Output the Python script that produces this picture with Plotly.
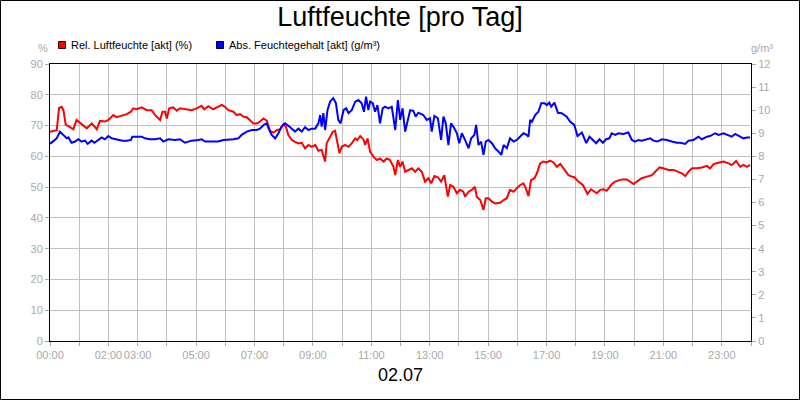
import plotly.graph_objects as go

# ---------------- data ----------------
rel_hours = [0.00, 0.23, 0.31, 0.40, 0.46, 0.54, 0.63, 0.74, 0.80, 0.91, 1.03, 1.14, 1.26, 1.43, 1.54, 1.60, 1.71, 1.88,
             2.00, 2.17, 2.28, 2.45, 2.63, 2.77, 2.85, 2.97, 3.14, 3.31, 3.48, 3.60, 3.77, 3.85, 3.94, 4.00, 4.08, 4.22,
             4.34, 4.45, 4.62, 4.85, 5.02, 5.19, 5.28, 5.42, 5.59, 5.76, 5.88, 5.99, 6.11, 6.28, 6.39, 6.51, 6.62, 6.74,
             6.85, 6.96, 7.08, 7.19, 7.31, 7.42, 7.53, 7.65, 7.76, 7.88, 7.99, 8.08, 8.16, 8.28, 8.39, 8.50, 8.62, 8.73,
             8.85, 8.96, 9.08, 9.19, 9.30, 9.42, 9.47, 9.59, 9.68, 9.76, 9.84, 9.91, 9.99, 10.10, 10.22, 10.33, 10.45,
             10.52, 10.62, 10.73, 10.79, 10.87, 10.96, 11.07, 11.19, 11.30, 11.42, 11.53, 11.64, 11.76, 11.82, 11.91,
             11.99, 12.07, 12.16, 12.27, 12.39, 12.50, 12.61, 12.73, 12.84, 12.96, 13.05, 13.16, 13.28, 13.39, 13.50,
             13.62, 13.70, 13.81, 13.93, 14.04, 14.15, 14.21, 14.33, 14.44, 14.55, 14.61, 14.73, 14.84, 14.92, 15.01,
             15.13, 15.24, 15.41, 15.53, 15.64, 15.75, 15.87, 15.98, 16.10, 16.21, 16.29, 16.38, 16.47, 16.59, 16.67,
             16.78, 16.89, 17.01, 17.12, 17.24, 17.35, 17.47, 17.58, 17.75, 17.87, 17.95, 18.09, 18.24, 18.32, 18.40,
             18.52, 18.63, 18.72, 18.84, 18.95, 19.06, 19.15, 19.24, 19.35, 19.46, 19.58, 19.75, 19.86, 19.98, 20.09,
             20.26, 20.43, 20.61, 20.72, 20.87, 21.00, 21.18, 21.35, 21.52, 21.63, 21.75, 21.86, 21.98, 22.15, 22.32,
             22.49, 22.60, 22.72, 22.89, 23.06, 23.23, 23.34, 23.49, 23.63, 23.74, 23.86, 23.97]
rel_humidity = [68.0, 68.5, 75.7, 76.1, 75.0, 70.2, 69.8, 69.1, 68.8, 71.8, 70.9, 70.2, 69.1, 70.7, 69.6, 68.8, 71.5, 71.3,
                71.8, 73.4, 72.7, 73.1, 73.7, 74.5, 75.6, 75.3, 75.9, 75.0, 75.0, 73.4, 71.8, 74.5, 74.5, 72.3, 75.6, 75.9,
                74.8, 75.6, 75.3, 75.0, 75.6, 76.4, 75.3, 76.3, 75.3, 76.1, 76.7, 76.1, 75.0, 74.5, 73.4, 73.7, 72.9, 72.7,
                71.8, 70.7, 70.7, 71.3, 72.3, 71.6, 68.3, 67.7, 68.5, 68.8, 70.5, 69.6, 66.9, 65.3, 64.7, 64.2, 64.4, 62.6,
                63.7, 63.1, 63.7, 61.8, 62.1, 58.3, 64.2, 66.4, 68.0, 68.3, 64.2, 61.0, 63.1, 63.7, 63.1, 64.2, 65.8,
                65.3, 66.6, 65.5, 63.7, 65.8, 61.5, 59.9, 58.8, 59.3, 58.3, 59.3, 58.8, 56.6, 53.9, 58.8,
                56.6, 58.3, 55.0, 55.6, 56.1, 55.0, 56.1, 55.0, 51.8, 52.9, 51.2, 53.6, 53.2, 51.8, 53.9,
                46.9, 50.7, 50.1, 48.0, 49.1, 48.5, 46.9, 48.5, 49.1, 50.1, 46.9, 45.8, 42.6, 46.4, 46.4,
                45.3, 44.7, 44.9, 45.8, 46.4, 49.1, 48.5, 49.6, 50.7, 51.2, 49.6, 47.1, 52.3, 52.9, 54.5,
                57.7, 58.3, 58.0, 58.6, 58.0, 56.6, 57.5, 56.1, 53.9, 53.4, 53.2, 51.8, 50.7, 49.3, 47.8,
                49.3, 48.5, 48.0, 49.1, 49.3, 48.8, 49.9, 51.0, 51.8, 52.1, 52.5, 52.5, 51.8, 51.0, 51.8,
                52.9, 53.4, 53.9, 55.0, 56.4, 56.1, 55.6, 55.6, 55.0, 54.5, 53.6, 55.0, 56.1, 56.1, 56.4,
                56.9, 56.1, 57.5, 57.9, 58.3, 57.7, 57.2, 58.5, 56.6, 57.2, 56.6, 57.2]

abs_hours = [0.00, 0.11, 0.23, 0.34, 0.46, 0.57, 0.63, 0.74, 0.86, 0.97, 1.08, 1.20, 1.29, 1.43, 1.52, 1.66, 1.77, 1.88,
             2.00, 2.11, 2.23, 2.34, 2.48, 2.63, 2.77, 2.82, 3.14, 3.25, 3.42, 3.60, 3.77, 3.88, 4.05, 4.28, 4.45, 4.62,
             4.85, 5.08, 5.19, 5.31, 5.54, 5.76, 5.94, 6.05, 6.28, 6.45, 6.56, 6.74, 6.91, 7.08, 7.19, 7.31, 7.42, 7.51,
             7.59, 7.71, 7.82, 7.93, 8.05, 8.16, 8.28, 8.39, 8.50, 8.62, 8.73, 8.85, 8.96, 9.08, 9.19, 9.25, 9.30, 9.36,
             9.42, 9.50, 9.59, 9.70, 9.79, 9.87, 9.95, 10.05, 10.14, 10.22, 10.33, 10.45, 10.56, 10.67, 10.75, 10.82,
             10.90, 10.96, 11.05, 11.13, 11.21, 11.30, 11.39, 11.47, 11.59, 11.70, 11.82, 11.91, 11.99, 12.07, 12.16,
             12.25, 12.33, 12.44, 12.52, 12.61, 12.78, 12.90, 13.01, 13.07, 13.16, 13.28, 13.39, 13.47, 13.55, 13.64,
             13.73, 13.81, 13.93, 14.01, 14.10, 14.21, 14.33, 14.42, 14.53, 14.59, 14.67, 14.76, 14.84, 14.92, 15.01,
             15.13, 15.24, 15.36, 15.45, 15.53, 15.64, 15.75, 15.87, 15.98, 16.10, 16.21, 16.32, 16.38, 16.44, 16.50,
             16.61, 16.72, 16.82, 16.93, 17.01, 17.09, 17.16, 17.27, 17.39, 17.52, 17.69, 17.81, 17.95, 18.06, 18.21,
             18.36, 18.47, 18.59, 18.70, 18.81, 18.93, 19.04, 19.15, 19.23, 19.35, 19.46, 19.63, 19.80, 19.92, 20.03,
             20.15, 20.26, 20.38, 20.55, 20.66, 20.80, 20.95, 21.12, 21.29, 21.46, 21.58, 21.75, 21.86, 22.03, 22.20,
             22.32, 22.49, 22.60, 22.77, 22.89, 23.06, 23.17, 23.34, 23.46, 23.63, 23.74, 23.86, 23.97]
abs_humidity = [8.54, 8.64, 8.78, 9.07, 8.93, 8.78, 8.82, 8.59, 8.64, 8.74, 8.64, 8.68, 8.54, 8.68, 8.59, 8.71, 8.82, 8.74,
                8.88, 8.78, 8.74, 8.71, 8.68, 8.68, 8.71, 8.85, 8.85, 8.78, 8.74, 8.74, 8.78, 8.64, 8.74, 8.71, 8.74, 8.59,
                8.68, 8.71, 8.74, 8.64, 8.64, 8.64, 8.71, 8.71, 8.74, 8.78, 8.93, 9.07, 9.14, 9.14, 9.20, 9.36, 9.43, 9.14,
                8.93, 8.78, 9.00, 9.29, 9.43, 9.32, 9.17, 9.07, 9.20, 9.07, 9.26, 9.14, 9.20, 9.20, 9.43, 9.79, 9.29, 9.87,
                9.14, 10.00, 10.37, 10.52, 10.30, 9.58, 9.43, 10.00, 10.08, 9.87, 10.00, 10.37, 10.44, 10.30, 9.93, 10.59,
                10.00, 10.37, 10.30, 9.93, 10.22, 9.43, 10.08, 10.15, 10.08, 10.15, 9.14, 10.44, 9.58, 10.08, 9.07,
                9.65, 10.00, 9.97, 9.72, 9.89, 9.79, 9.58, 9.65, 9.07, 9.75, 9.65, 8.71, 9.72, 9.43, 8.49,
                9.43, 9.29, 9.00, 8.57, 9.00, 8.71, 8.35, 8.78, 8.93, 9.36, 8.49, 8.64, 8.06, 8.64, 8.71,
                8.57, 8.35, 8.20, 8.06, 8.49, 8.35, 8.78, 8.64, 8.71, 8.85, 9.00, 8.93, 8.85, 9.58, 9.50,
                9.79, 9.93, 10.30, 10.30, 10.22, 10.33, 10.15, 10.33, 9.89, 9.87, 9.72, 9.50, 9.36, 8.88, 9.03,
                8.57, 8.85, 8.71, 8.57, 8.74, 8.59, 8.74, 8.78, 9.00, 8.93, 9.00, 8.97, 9.03, 8.71, 8.64,
                8.71, 8.68, 8.71, 8.78, 8.68, 8.64, 8.74, 8.71, 8.64, 8.59, 8.59, 8.54, 8.68, 8.71, 8.85,
                8.74, 8.85, 8.88, 9.00, 8.93, 9.00, 8.93, 8.85, 8.97, 8.85, 8.78, 8.82, 8.82]

hour_ticks = list(range(0, 25))
hour_labels = ["00:00", "", "02:00", "03:00", "", "05:00", "", "07:00", "", "09:00", "", "11:00", "",
               "13:00", "", "15:00", "", "17:00", "", "19:00", "", "21:00", "", "23:00", ""]

title_text = "Luftfeuchte [pro Tag]"
date_label = "02.07"
rel_name = "Rel. Luftfeuchte [akt] (%)"
abs_name = "Abs. Feuchtegehalt [akt] (g/m³)"
rel_color = "#ff0000"
abs_color = "#0000ff"

# ---------------- layout geometry ----------------
W, H = 800, 400
ML, MR, MT, MB = 50, 49, 64, 59
PW, PH = W - ML - MR, H - MT - MB


def px(x):
    return (x - ML) / PW


def py(y):
    return (H - MB - y) / PH


FONT = "Liberation Sans, Arial, sans-serif"
GRID = "#c0c0c0"
TICKC = "#a8a8a8"

fig = go.Figure()
fig.add_trace(go.Scatter(x=rel_hours, y=rel_humidity, mode="lines", name=rel_name,
                         line=dict(color=rel_color, width=2), yaxis="y", showlegend=False,
                         hoverinfo="skip"))
fig.add_trace(go.Scatter(x=abs_hours, y=abs_humidity, mode="lines", name=abs_name,
                         line=dict(color=abs_color, width=2), yaxis="y2", showlegend=False,
                         hoverinfo="skip"))

shapes = [
    # outer frame
    dict(type="rect", xref="paper", yref="paper", x0=px(0.5), x1=px(799.5), y0=py(399.5), y1=py(0.5),
         line=dict(color="black", width=1), layer="below"),
    # legend squares
    dict(type="rect", xref="paper", yref="paper", x0=px(58.5), x1=px(65.5), y0=py(48.5), y1=py(41.5),
         fillcolor=rel_color, line=dict(color="#400000", width=1)),
    dict(type="rect", xref="paper", yref="paper", x0=px(216.5), x1=px(223.5), y0=py(48.5), y1=py(41.5),
         fillcolor=abs_color, line=dict(color="#000040", width=1)),
]

annotations = [
    dict(text=rel_name, xref="paper", yref="paper", x=px(69), y=py(45), xanchor="left", yanchor="middle",
         showarrow=False, font=dict(family=FONT, size=11, color="black")),
    dict(text=abs_name, xref="paper", yref="paper", x=px(227), y=py(45), xanchor="left", yanchor="middle",
         showarrow=False, font=dict(family=FONT, size=11, color="black")),
    dict(text="%", xref="paper", yref="paper", x=px(43), y=py(48), xanchor="center", yanchor="middle",
         showarrow=False, font=dict(family=FONT, size=11, color=TICKC)),
    dict(text="g/m³", xref="paper", yref="paper", x=px(762), y=py(48), xanchor="center", yanchor="middle",
         showarrow=False, font=dict(family=FONT, size=11, color=TICKC)),
]

fig.update_layout(
    width=W, height=H,
    margin=dict(l=ML, r=MR, t=MT, b=MB, pad=0, autoexpand=False),
    paper_bgcolor="white", plot_bgcolor="white",
    title=dict(text=title_text, x=0.5, xanchor="center", y=1 - 17 / H, yanchor="middle",
               font=dict(family=FONT, size=27, color="black")),
    xaxis=dict(range=[0, 24], tickmode="array", tickvals=hour_ticks, ticktext=hour_labels,
               tickangle=0, automargin=False,
               showgrid=True, gridcolor=GRID, gridwidth=1, zeroline=False,
               showline=True, linecolor="black", linewidth=1, mirror=True,
               ticks="outside", ticklen=4, tickcolor=TICKC,
               tickfont=dict(family=FONT, size=11, color=TICKC),
               title=dict(text=date_label, font=dict(family=FONT, size=18, color="black"), standoff=8)),
    yaxis=dict(range=[0, 90], dtick=10, tick0=0, showgrid=True, gridcolor=GRID, gridwidth=1,
               automargin=False,
               zeroline=False, showline=True, linecolor="black", linewidth=1,
               ticks="outside", ticklen=4, tickcolor=TICKC,
               tickfont=dict(family=FONT, size=11, color=TICKC)),
    yaxis2=dict(range=[0, 12], dtick=1, tick0=0, overlaying="y", side="right", showgrid=False,
                automargin=False,
                zeroline=False, showline=True, linecolor="black", linewidth=1,
                ticks="outside", ticklen=4, tickcolor=TICKC,
                tickfont=dict(family=FONT, size=11, color=TICKC)),
    shapes=shapes,
    annotations=annotations,
    showlegend=False,
)

fig.write_html("out.html")
